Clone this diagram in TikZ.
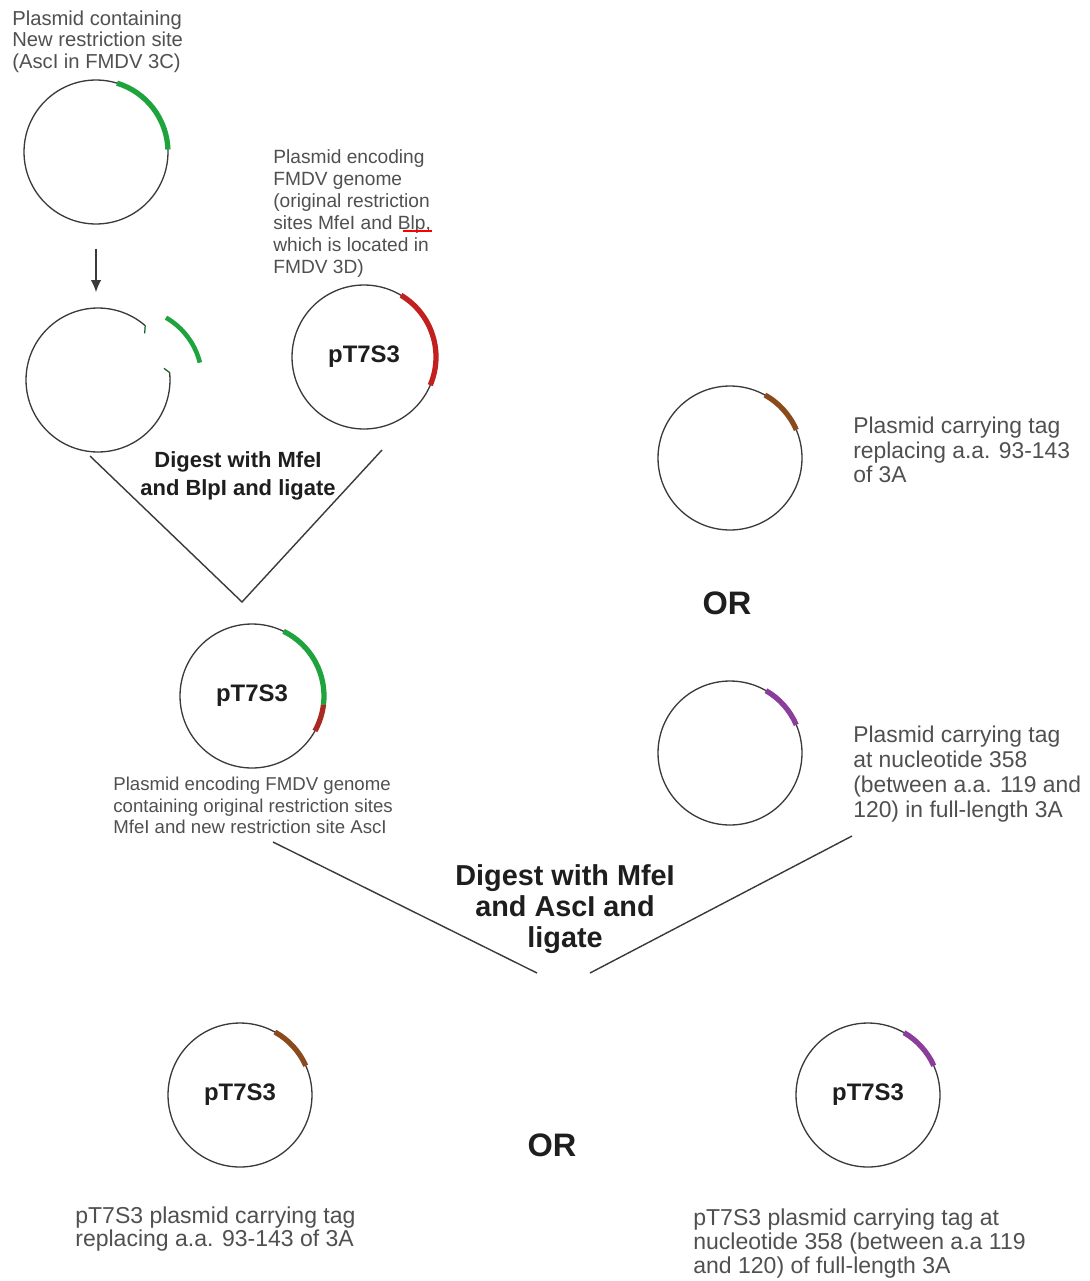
\documentclass[tikz,border=0pt]{standalone}
\usepackage{fontspec}
\setmainfont{Liberation Sans}
\usetikzlibrary{arrows.meta}
\definecolor{circ}{HTML}{3A3A3A}
\definecolor{txt}{HTML}{505050}
\definecolor{boldc}{HTML}{1E1E1E}
\definecolor{gA}{HTML}{1FA33D}
\definecolor{rA}{HTML}{C21F1F}
\definecolor{rB}{HTML}{A82A22}
\definecolor{brn}{HTML}{8B4A1C}
\definecolor{pur}{HTML}{8A3D9A}
\begin{document}
\begin{tikzpicture}[x=0.02cm,y=-0.02cm,
  plasmid/.style={circle,draw=circ,line width=0.75pt,minimum size=2.88cm,inner sep=0pt,
    font=\fontsize{13.6}{16}\selectfont\bfseries,text=boldc},
  seg/.style={line width=3pt},
  lbl/.style={anchor=north west,inner sep=0pt,align=left,text=txt},
  boldlbl/.style={anchor=north,inner sep=0pt,align=center,text=boldc},
  vline/.style={draw=circ,line width=0.8pt},
  orlbl/.style={inner sep=0pt,text=boldc,font=\fontsize{18.5}{20}\selectfont\bfseries}]
\useasboundingbox[fill=white] (0,0) rectangle (1089,1281);

% ---- top-left plasmid
\node[lbl,font=\fontsize{11.5}{12.2}\selectfont] (t1) at (12,10.5)
  {Plasmid containing\\New restriction site\\(AscI in FMDV 3C)};
\node[plasmid] (p1) at (96,152) {};
\draw[seg,gA] ([shift={(73:1.44cm)}]p1.center) arc[start angle=73,end angle=2,radius=1.44cm];

% ---- cut plasmid
\node[plasmid,draw=none] (p2) at (98,380) {};
\draw[circ,line width=0.75pt] ([shift={(49:1.44cm)}]p2.center) arc[start angle=49,end angle=366,radius=1.44cm];
\draw[gA!60!black,line width=0.7pt] ([shift={(49:1.44cm)}]p2.center) -- ([shift={(45:1.32cm)}]p2.center);
\draw[gA!60!black,line width=0.7pt] ([shift={(6:1.44cm)}]p2.center) -- ([shift={(10:1.34cm)}]p2.center);
\coordinate (g2) at (130,380);
\draw[gA,line width=2.6pt] ([shift={(60:1.44cm)}]g2) arc[start angle=60,end angle=14,radius=1.44cm];

\draw[circ,line width=0.9pt,-{Latex[length=7pt,width=6pt]},shorten <=0.48cm,shorten >=0.3cm]
  (p1.south) -- (p1.south |- p2.north);

% ---- pT7S3 red
\node[lbl,font=\fontsize{10.9}{12.5}\selectfont] (t2) at (273,149)
  {Plasmid encoding\\FMDV genome\\(original restriction\\sites MfeI and Blp,\\which is located in\\FMDV 3D)};
\draw[red,line width=0.9pt] (403,231) -- (432,231);
\node[plasmid] (p3) at (364,357) {pT7S3};
\draw[seg,rA] ([shift={(59:1.44cm)}]p3.center) arc[start angle=59,end angle=-23,radius=1.44cm];

% ---- first V
\coordinate (v1l) at (90,456);
\coordinate (v1a) at (242,602);
\coordinate (v1r) at (382,450);
\draw[vline] (v1l) -- (v1a) -- (v1r);
\node[boldlbl,font=\fontsize{12.5}{15.9}\selectfont\bfseries] (d1) at (238,451)
  {Digest with MfeI\\and BlpI and ligate};

% ---- middle plasmid
\node[plasmid] (p4) at (252,696) {pT7S3};
\draw[seg,gA] ([shift={(64:1.44cm)}]p4.center) arc[start angle=64,end angle=-7,radius=1.44cm];
\draw[seg,rB] ([shift={(-7:1.44cm)}]p4.center) arc[start angle=-7,end angle=-29,radius=1.44cm];
\node[lbl,font=\fontsize{10.6}{12.2}\selectfont] (t4) at (113,777)
  {Plasmid encoding FMDV genome\\containing original restriction sites\\MfeI and new restriction site AscI};

% ---- right plasmids
\node[plasmid] (p5) at (730,458) {};
\draw[seg,brn] ([shift={(61:1.44cm)}]p5.center) arc[start angle=61,end angle=23,radius=1.44cm];
\node[lbl,font=\fontsize{13}{13.8}\selectfont] (t5) at (853,417)
  {Plasmid carrying tag\\replacing a.a. 93-143\\of 3A};
\node[orlbl] (or1) at (727,603) {OR};
\node[plasmid] (p6) at (730,753) {};
\draw[seg,pur] ([shift={(60:1.44cm)}]p6.center) arc[start angle=60,end angle=23,radius=1.44cm];
\node[lbl,font=\fontsize{13}{14.2}\selectfont] (t6) at (853,726)
  {Plasmid carrying tag\\at nucleotide 358\\(between a.a. 119 and\\120) in full-length 3A};

% ---- second V
\coordinate (v2l) at (273,842);
\coordinate (v2la) at (537,973);
\coordinate (v2ra) at (590,973);
\coordinate (v2r) at (852,836);
\draw[vline] (v2l) -- (v2la);
\draw[vline] (v2ra) -- (v2r);
\node[boldlbl,font=\fontsize{16.4}{17.8}\selectfont\bfseries] (d2) at (565,864)
  {Digest with MfeI\\and AscI and\\ligate};

% ---- bottom plasmids
\node[plasmid] (p7) at (240,1095) {pT7S3};
\draw[seg,brn] ([shift={(61:1.44cm)}]p7.center) arc[start angle=61,end angle=24,radius=1.44cm];
\node[plasmid] (p8) at (868,1095) {pT7S3};
\draw[seg,pur] ([shift={(60:1.44cm)}]p8.center) arc[start angle=60,end angle=24,radius=1.44cm];
\node[orlbl] (or2) at (552,1145) {OR};
\node[lbl,font=\fontsize{13.1}{13.4}\selectfont] (t7) at (75,1206)
  {pT7S3 plasmid carrying tag\\replacing a.a. 93-143 of 3A};
\node[lbl,font=\fontsize{13.1}{13.9}\selectfont] (t8) at (693,1208)
  {pT7S3 plasmid carrying tag at\\nucleotide 358 (between a.a 119\\and 120) of full-length 3A};
\end{tikzpicture}
\end{document}
